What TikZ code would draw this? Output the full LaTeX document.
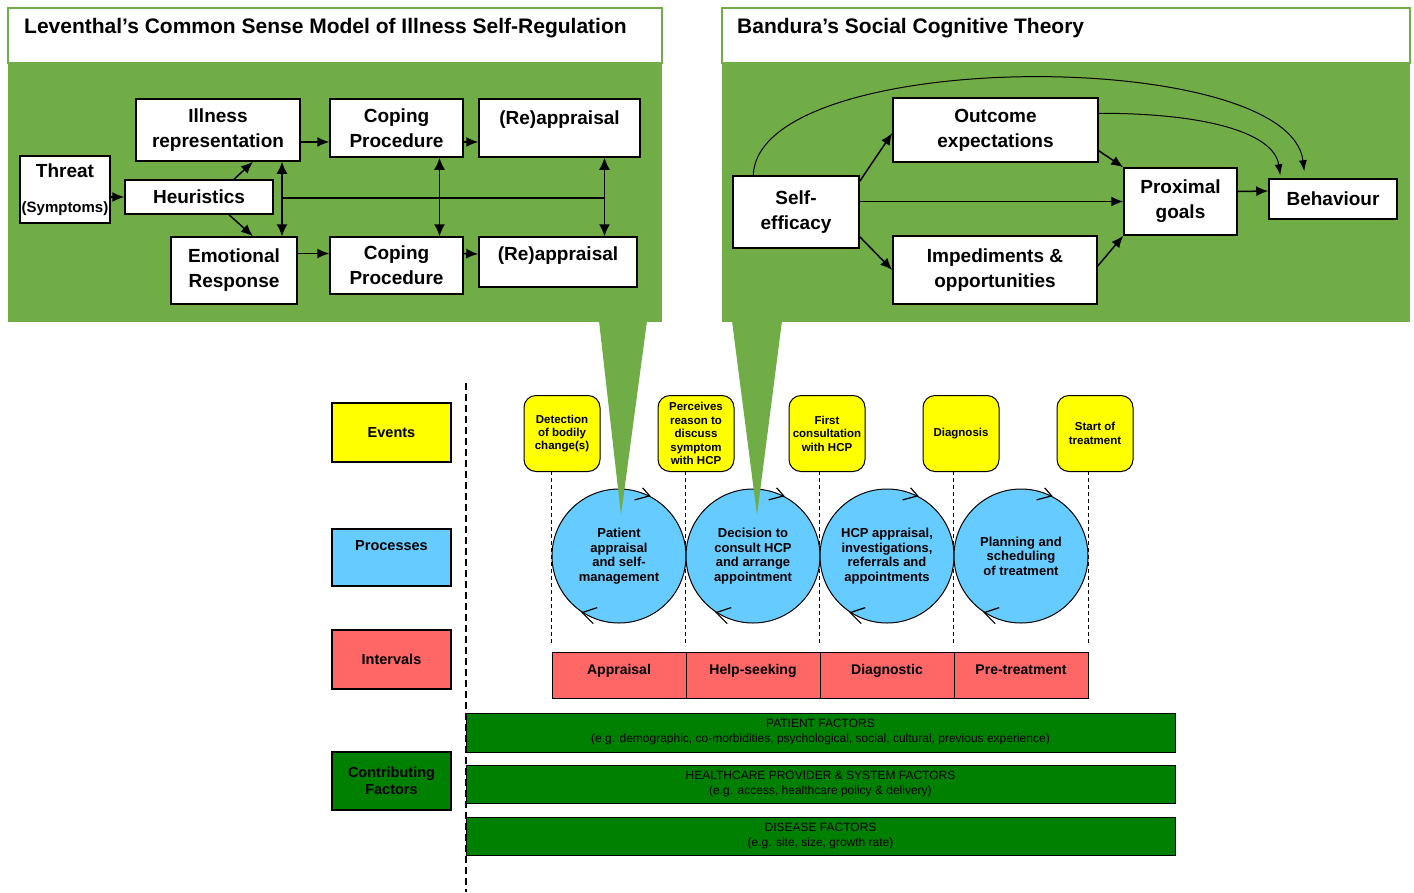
\documentclass[tikz,border=0pt]{standalone}
\usepackage{fontspec}
\setmainfont{Liberation Sans}
\usetikzlibrary{calc,arrows.meta}

\definecolor{panelgreen}{RGB}{112,173,71}
\definecolor{evyellow}{RGB}{255,255,0}
\definecolor{prblue}{RGB}{102,204,255}
\definecolor{ivred}{RGB}{255,102,102}
\definecolor{cfgreen}{RGB}{0,128,0}

\tikzset{
  mbox/.style={draw, fill=white, line width=1.5pt, align=center, inner sep=0pt,
    font=\bfseries\fontsize{19}{25}\selectfont},
  lab/.style={draw, line width=1.5pt, minimum width=119pt, align=center, inner sep=0pt,
    font=\bfseries\fontsize{14.5}{17}\selectfont},
  evbox/.style={draw, line width=1pt, fill=evyellow, rounded corners=12pt, minimum width=76pt,
    minimum height=76pt, align=center, inner sep=0pt, font=\bfseries\fontsize{11.5}{13.4}\selectfont},
  proc/.style={circle, draw, line width=1pt, fill=prblue, minimum size=134pt, align=center,
    inner sep=0pt, font=\bfseries\fontsize{13}{14.6}\selectfont},
  ivcell/.style={draw, line width=1pt, fill=ivred, minimum width=134pt, minimum height=46pt,
    inner sep=0pt, text height=10pt, text depth=12pt, font=\bfseries\fontsize{14}{16}\selectfont},
  fbar/.style={draw, line width=1pt, fill=cfgreen, minimum width=709pt, align=center,
    inner sep=0pt, font=\fontsize{12}{15}\selectfont},
  ttl/.style={anchor=west, inner sep=0pt, font=\bfseries\fontsize{21}{25}\selectfont},
  arr/.style={line width=1.5pt, -{Latex[length=12pt,width=10pt]}},
  dblarr/.style={line width=1.5pt, {Latex[length=12pt,width=11pt]}-{Latex[length=12pt,width=11pt]}},
  curv/.style={line width=1pt, -{Latex[length=11pt,width=8pt]}},
  chev/.style={line width=1.2pt},
  vdash/.style={line width=1pt, dash pattern=on 4pt off 3pt},
}

\begin{document}
\begin{tikzpicture}[x=1pt, y=-1pt]
\useasboundingbox (0,0) rectangle (1414,892);

% lower part: labels on the left
\node[lab, fill=evyellow, minimum height=59pt] (evlab) at (391.5,432.5) {Events};
\node[lab, fill=prblue, minimum height=57pt, text height=10.5pt, text depth=25pt] (prlab) at (391.5,557.5) {Processes};
\node[lab, fill=ivred, minimum height=59pt] (inlab) at (391.5,659.5) {Intervals};
\node[lab, fill=cfgreen, minimum height=58pt] (cflab) at (391.5,781) {Contributing\\Factors};

\draw[line width=2pt, dash pattern=on 7pt off 4pt] (466,383) -- (466,892);

% events
\node[evbox] (e1) at (562,433.5) {Detection\\of bodily\\change(s)};
\node[evbox] (e2) at (696,433.5) {Perceives\\reason to\\discuss\\symptom\\with HCP};
\node[evbox] (e3) at (827,433.5) {First\\consultation\\with HCP};
\node[evbox] (e4) at (961,433.5) {Diagnosis};
\node[evbox] (e5) at (1095,433.5) {Start of\\treatment};

% intervals
\node[ivcell] (iv1) at (619,675) {Appraisal};
\node[ivcell] (iv2) at (753,675) {Help-seeking};
\node[ivcell] (iv3) at (887,675) {Diagnostic};
\node[ivcell] (iv4) at (1021,675) {Pre-treatment};

\foreach \c/\e in {iv1.north west/e1, iv2.north west/e2, iv3.north west/e3, iv4.north west/e4, iv4.north east/e5}
  \draw[vdash] ($(\c)+(0,-9)$) -- (\c |- \e.south);

% processes
\node[proc] (p1) at (619,556) {Patient\\appraisal\\and self-\\management};
\node[proc] (p2) at (753,556) {Decision to\\consult HCP\\and arrange\\appointment};
\node[proc] (p3) at (887,556) {HCP appraisal,\\investigations,\\referrals and\\appointments};
\node[proc] (p4) at (1021,556) {Planning and\\scheduling\\of treatment};

\foreach \p in {p1,p2,p3,p4}{
  \draw[chev] ($(\p.63)+(-7,-8)$) -- (\p.63) -- ($(\p.63)+(-15,4)$);
  \draw[chev] ($(\p.237)+(15,-5)$) -- (\p.237) -- ($(\p.237)+(11,11)$);
}

% contributing factors
\node[fbar, minimum height=39pt] (fb1) at (820.5,732.5) {PATIENT FACTORS\\(e.g. demographic, co-morbidities, psychological, social, cultural, previous experience)};
\node[fbar, minimum height=38pt] (fb2) at (820.5,784) {HEALTHCARE PROVIDER \& SYSTEM FACTORS\\(e.g. access, healthcare policy \& delivery)};
\node[fbar, minimum height=38pt] (fb3) at (820.5,836) {DISEASE FACTORS\\(e.g. site, size, growth rate)};

% panels and callouts
\draw[panelgreen, line width=2pt, fill=white] (8,8) rectangle (662,63);
\fill[panelgreen] (8,63) rectangle (662,322);
\fill[panelgreen] (599,321) -- (647,321) -- (621,515) -- cycle;
\draw[panelgreen, line width=2pt, fill=white] (722,8) rectangle (1410,63);
\fill[panelgreen] (722,63) rectangle (1410,322);
\fill[panelgreen] (732,321) -- (782,321) -- (757,515) -- cycle;

\node[ttl] (ltitle) at (24,28) {Leventhal’s Common Sense Model of Illness Self-Regulation};
\node[ttl] (rtitle) at (737,28) {Bandura’s Social Cognitive Theory};

% Leventhal
\node[mbox, minimum width=90pt, minimum height=67pt] (thr) at (65,189.5) {Threat\\[10pt]{\fontsize{15}{15}\selectfont(Symptoms)}};
\node[mbox, minimum width=148pt, minimum height=34pt] (heur) at (199,197) {Heuristics};
\node[mbox, minimum width=164pt, minimum height=62pt] (ill) at (218,130) {Illness\\representation};
\node[mbox, minimum width=126pt, minimum height=67pt] (emo) at (234,270.5) {Emotional\\Response};
\node[mbox, minimum width=133pt, minimum height=58pt] (cope1) at (396.5,128) {Coping\\Procedure};
\node[mbox, minimum width=133pt, minimum height=57pt] (cope2) at (396.5,265.5) {Coping\\Procedure};
\node[mbox, minimum width=161pt, minimum height=58pt, text height=14pt, text depth=22pt] (reap1) at (559.5,128) {(Re)appraisal};
\node[mbox, minimum width=158pt, minimum height=50pt, text height=14pt, text depth=16.4pt] (reap2) at (558,262) {(Re)appraisal};

\draw[arr] (heur.west -| thr.east) -- (heur.west);
\draw[arr] ($(heur.north)+(35,0)$) -- ($(ill.south)+(35,0)$);
\draw[arr] ($(heur.south)+(30,0)$) -- ($(emo.north)+(19,0)$);
\draw[dblarr] ($(ill.south)+(64,0)$) -- ($(emo.north)+(48,0)$);
\draw[line width=1.5pt] ($(heur.east)+(9,1)$) -- ($(heur.east -| reap1.south)+(45,1)$);
\draw[arr] ($(ill.east)+(0,12)$) -- ($(cope1.west)+(0,14)$);
\draw[arr] ($(cope1.east)+(0,14)$) -- ($(reap1.west)+(0,14)$);
\draw[arr] ($(emo.east)+(0,-17)$) -- ($(cope2.west)+(0,-12)$);
\draw[arr] ($(cope2.east)+(0,-12)$) -- ($(reap2.west)+(0,-8)$);
\draw[dblarr] ($(cope1.south)+(43,0)$) -- ($(cope2.north)+(43,0)$);
\draw[dblarr] ($(reap1.south)+(45,0)$) -- ($(reap2.north)+(46.5,0)$);

% Bandura
\node[mbox, minimum width=126pt, minimum height=72pt] (se) at (796,212) {Self-\\efficacy};
\node[mbox, minimum width=205pt, minimum height=64pt] (out) at (995.5,130) {Outcome\\expectations};
\node[mbox, minimum width=204pt, minimum height=68pt] (imp) at (995,270) {Impediments \&\\opportunities};
\node[mbox, minimum width=113pt, minimum height=67pt] (prox) at (1180.5,201.5) {Proximal\\goals};
\node[mbox, minimum width=128pt, minimum height=40pt] (beh) at (1333,199) {Behaviour};

\draw[arr] ($(se.north east)+(0,6)$) -- ($(out.west)+(0,3)$);
\draw[arr] ($(se.south east)+(0,-12)$) -- (imp.west);
\draw[arr] (se.east |- prox.west) -- (prox.west);
\draw[arr] ($(out.south east)+(0,-12)$) -- (prox.north west);
\draw[arr] ($(imp.east)+(0,-4)$) -- (prox.south west);
\draw[arr] ($(prox.east)+(0,-10)$) -- ($(beh.west)+(0,-8)$);
\draw[curv] ($(se.north west)+(21,0)$) .. controls +(5,-129) and +(-15,-125) .. ($(beh.north west)+(36,-7)$);
\draw[curv] ($(out.north east)+(0,16)$) .. controls +(112,0) and +(-6,-41) .. ($(beh.north west)+(12,-3)$);
\end{tikzpicture}
\end{document}
